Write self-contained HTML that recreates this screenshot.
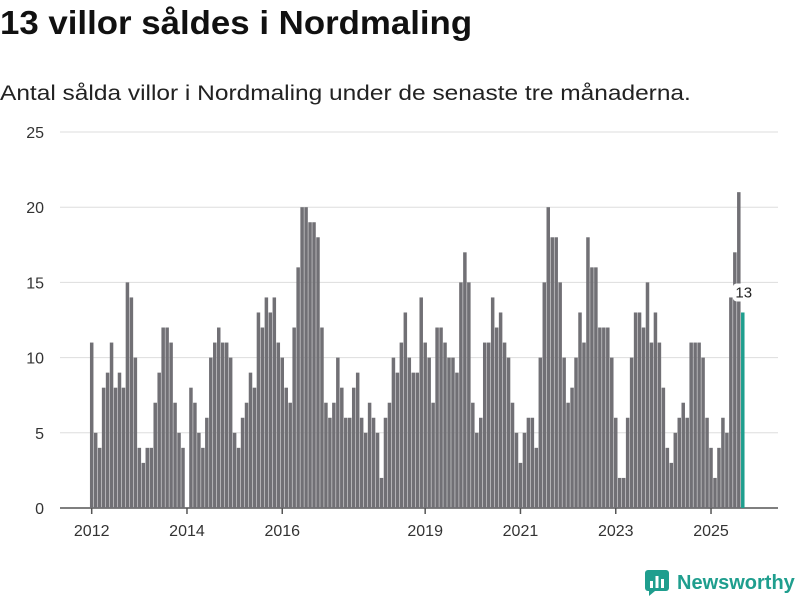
<!DOCTYPE html>
<html><head><meta charset="utf-8">
<style>
body{margin:0;width:800px;height:600px;background:#fff;font-family:"Liberation Sans",sans-serif;overflow:hidden;position:relative}
h1{position:absolute;left:0;top:4px;margin:0;font-size:33px;font-weight:bold;color:#111;transform-origin:0 0;transform:scaleX(1.055);white-space:nowrap}
.sub{position:absolute;left:0;top:82px;font-size:21px;color:#222;transform-origin:0 0;transform:scaleX(1.165);white-space:nowrap}
svg{position:absolute;left:0;top:0}
.logo{position:absolute;left:645px;top:570px;display:flex;align-items:center;gap:8px;color:#1f9e8e;font-weight:bold;font-size:20px}
</style></head><body>
<h1>13 villor såldes i Nordmaling</h1>
<div class="sub">Antal sålda villor i Nordmaling under de senaste tre månaderna.</div>
<svg id="chart" width="800" height="600"></svg>
<div class="logo">
<svg width="24" height="26" viewBox="0 0 24 26" style="position:static"><rect x="0" y="0" width="24" height="21" rx="3" fill="#1f9e8e"/><path d="M4 21 L4 26 L10 21Z" fill="#1f9e8e"/><rect x="5" y="11" width="3" height="7" fill="#fff"/><rect x="10.5" y="6" width="3" height="12" fill="#fff"/><rect x="16" y="9" width="3" height="9" fill="#fff"/></svg>
<span>Newsworthy</span></div>
<script>
const values=[11,5,4,8,9,11,8,9,8,15,14,10,4,3,4,4,7,9,12,12,11,7,5,4,0,8,7,5,4,6,10,11,12,11,11,10,5,4,6,7,
9,8,13,12,14,13,14,11,10,8,7,12,16,20,20,19,19,18,12,7,6,7,10,8,6,6,8,9,6,5,7,6,5,2,6,7,10,9,11,13,10,9,
9,14,11,10,7,12,12,11,10,10,9,15,17,15,7,5,6,11,11,14,12,13,11,10,7,5,3,5,6,6,4,10,15,20,18,18,15,10,7,8,10,13,
11,18,16,16,12,12,12,10,6,2,2,6,10,13,13,12,15,11,13,11,8,4,3,5,6,7,6,11,11,11,10,6,4,2,4,6,5,14,17,21,13];
const startYear=2012;
const yTicks=[0,5,10,15,20,25];
const xTickYears=[2012,2014,2016,2019,2021,2023,2025];
const NS="http://www.w3.org/2000/svg";
const svg=document.getElementById('chart');
const y0=508,y1=132,yMax=25;
const y=v=>y0-(v/yMax)*(y0-y1);
const step=3.97,xs=91.7;
const x=i=>xs+i*step;
function mk(t,a){const e=document.createElementNS(NS,t);for(const k in a)e.setAttribute(k,a[k]);svg.appendChild(e);return e;}
yTicks.forEach(t=>{
 const l=mk('line',{x1:60,x2:778,y1:y(t),y2:y(t),stroke:t===0?'#555':'#ddd','stroke-width':t===0?1.5:1});
 
 
 const tx=mk('text',{x:44,y:y(t)+6,'text-anchor':'end','font-size':16,fill:'#333','font-family':'Liberation Sans, sans-serif'});
 tx.textContent=t;
 
 
});
values.forEach((v,i)=>{
 const last=i===values.length-1;
 const r=mk('rect',{x:x(i)-1.75,y:y(v),width:3.5,height:y0-y(v),fill:last?'#1f9e8e':'#717075'});
 
 
});
xTickYears.forEach(yr=>{
 const i=(yr-startYear)*12;
 const l=mk('line',{x1:x(i),x2:x(i),y1:508,y2:514,stroke:'#555','stroke-width':1.5});
 
 
 const tx=mk('text',{x:x(i),y:536,'text-anchor':'middle','font-size':16,fill:'#333','font-family':'Liberation Sans, sans-serif'});
 tx.textContent=yr;
 
 
});
const li=values.length-1;
const bg=mk('rect',{x:x(li)-10,y:y(values[li])-29,width:20,height:18,rx:4,fill:'#fff'});


const lab=mk('text',{x:x(li)+1,y:y(values[li])-15,'text-anchor':'middle','font-size':15,fill:'#222','font-family':'Liberation Sans, sans-serif'});
lab.textContent=values[li];


</script>
</body></html>
